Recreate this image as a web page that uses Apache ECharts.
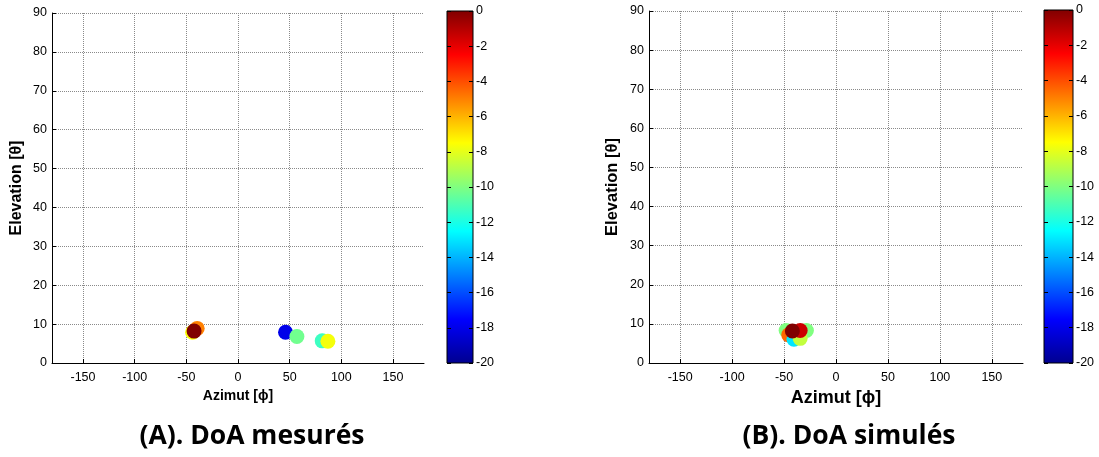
<!DOCTYPE html>
<html>
<head>
<meta charset="utf-8">
<script src="https://cdn.jsdelivr.net/npm/echarts@6/dist/echarts.min.js"></script>
<style>html,body{margin:0;padding:0;background:#fff}#c{width:1099px;height:457px}</style>
</head>
<body>
<div id="c"></div>
<script>
// ---- data ----
// [azimut, elevation, power dB]
const measured = [
  [-44, 7.9, -7.6],
  [-39.5, 8.9, -5],
  [-42.5, 8.2, 0],
  [46, 7.9, -18],
  [57, 6.8, -10.3],
  [81.5, 5.7, -11.3],
  [87, 5.6, -7.7]
];
const simulated = [
  [-48, 8.3, -10],
  [-28.5, 8.3, -10],
  [-45.5, 7.2, -4.5],
  [-40.5, 6.1, -13],
  [-34.5, 6.3, -8.7],
  [-34.5, 8.3, -1.5],
  [-42, 8.2, 0]
];
const xTicks = [-150, -100, -50, 0, 50, 100, 150];
const colorRange = [-20, 0];
const jet = ['#00008f','#0000ff','#0080ff','#00ffff','#80ff80','#ffff00','#ff8000','#ff0000','#800000'];
const captions = ['(A). DoA mesurés', '(B). DoA simulés'];

const chart = echarts.init(document.getElementById('c'));
const font = 'Liberation Sans, Arial, sans-serif';
const gradient = new echarts.graphic.LinearGradient(0, 1, 0, 0,
  jet.map((c, i) => ({offset: i / (jet.length - 1), color: c})));

function plotX(gi, nameSize, nameGap) {
  return {
    gridIndex: gi, type: 'value', min: -180, max: 180,
    name: 'Azimut [ϕ]', nameLocation: 'middle', nameGap: nameGap,
    nameTextStyle: {fontFamily: font, fontWeight: 'bold', fontSize: nameSize, color: '#000'},
    axisLine: {show: true, onZero: false, lineStyle: {color: '#000', width: 1}},
    axisTick: {show: true, inside: true, length: 4, customValues: xTicks, lineStyle: {color: '#000'}},
    axisLabel: {show: true, customValues: xTicks, fontFamily: font, fontSize: 12.5, color: '#000', margin: 8},
    splitLine: {show: true, lineStyle: {color: '#8a8a8a', type: 'dotted', width: 1}}
  };
}
function plotY(gi, nameSize, nameGap) {
  return {
    gridIndex: gi, type: 'value', min: 0, max: 90, interval: 10,
    name: 'Elevation [θ]', nameLocation: 'middle', nameGap: nameGap, nameRotate: 90,
    nameTextStyle: {fontFamily: font, fontWeight: 'bold', fontSize: nameSize, color: '#000'},
    axisLine: {show: true, onZero: false, lineStyle: {color: '#000', width: 1}},
    axisTick: {show: true, inside: true, length: 4, lineStyle: {color: '#000'}},
    axisLabel: {fontFamily: font, fontSize: 12.5, color: '#000', margin: 5},
    splitLine: {show: true, lineStyle: {color: '#8a8a8a', type: 'dotted', width: 1}}
  };
}
function cbX(gi) {
  return {gridIndex: gi, type: 'value', min: 0, max: 1, show: false};
}
function cbY(gi, pos, labels) {
  return {
    gridIndex: gi, type: 'value', min: colorRange[0], max: colorRange[1], interval: 2,
    position: pos, z: 10,
    axisLine: {show: false},
    axisTick: {show: true, inside: true, length: 4, lineStyle: {color: '#000'}},
    axisLabel: {show: labels, fontFamily: font, fontSize: 12.5, color: '#000', margin: 3},
    splitLine: {show: false}
  };
}
function colorbarSeries(xi, yi) {
  return {
    type: 'custom', xAxisIndex: xi, yAxisIndex: yi, silent: true, z: 1,
    data: [[colorRange[0], colorRange[1]]],
    renderItem: function (params, api) {
      const p0 = api.coord([0, api.value(0)]);
      const p1 = api.coord([1, api.value(1)]);
      return {type: 'rect', shape: {x: p0[0], y: p1[1], width: p1[0] - p0[0], height: p0[1] - p1[1]},
        style: {fill: gradient, stroke: '#000', lineWidth: 1}};
    }
  };
}

chart.setOption({
  animation: false,
  backgroundColor: '#fff',
  grid: [
    {left: 52, top: 13, width: 372, height: 350},
    {left: 447, top: 11, width: 26, height: 352},
    {left: 649, top: 11, width: 374, height: 352},
    {left: 1044, top: 10, width: 29, height: 353}
  ],
  xAxis: [plotX(0, 14, 24), cbX(1), plotX(2, 18, 21), cbX(3)],
  yAxis: [plotY(0, 16, 27), cbY(1, 'left', false), cbY(1, 'right', true),
          plotY(2, 16.5, 28), cbY(3, 'left', false), cbY(3, 'right', true)],
  visualMap: {
    show: false, type: 'continuous', min: colorRange[0], max: colorRange[1],
    dimension: 2, seriesIndex: [0, 1], inRange: {color: jet}
  },
  series: [
    {type: 'scatter', xAxisIndex: 0, yAxisIndex: 0, data: measured, symbolSize: 15, itemStyle: {opacity: 1}},
    {type: 'scatter', xAxisIndex: 2, yAxisIndex: 3, data: simulated, symbolSize: 15, itemStyle: {opacity: 1}},
    colorbarSeries(1, 1),
    colorbarSeries(3, 4)
  ],
  graphic: [
    {type: 'text', x: 252, y: 436, style: {text: captions[0], font: 'bold 26.5px "Open Sans", sans-serif', fill: '#000', align: 'center', verticalAlign: 'middle'}},
    {type: 'text', x: 849, y: 436, style: {text: captions[1], font: 'bold 26.5px "Open Sans", sans-serif', fill: '#000', align: 'center', verticalAlign: 'middle'}}
  ]
});
</script>
</body>
</html>
